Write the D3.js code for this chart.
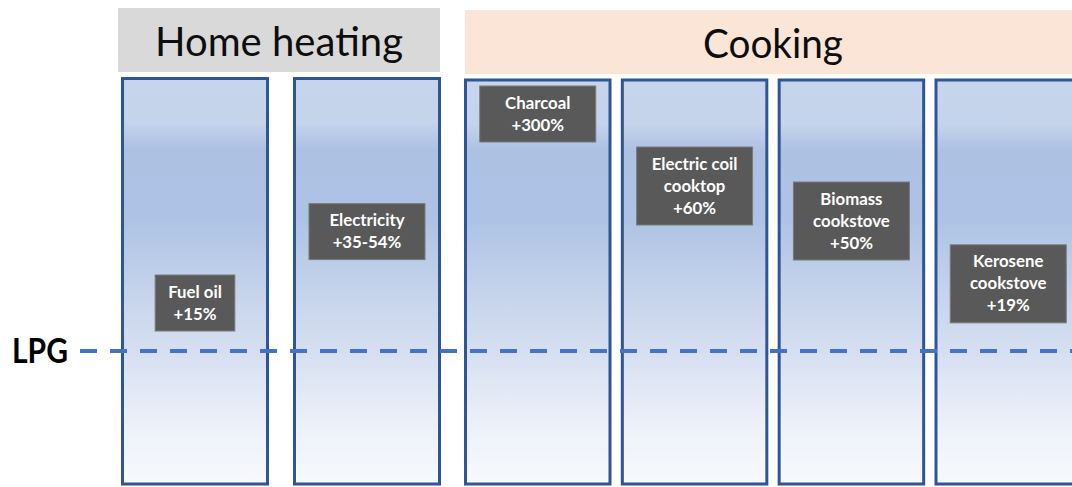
<!DOCTYPE html>
<html>
<head>
<meta charset="utf-8">
<script src="https://cdn.jsdelivr.net/npm/d3@7"></script>
<style>
  html, body { margin: 0; padding: 0; background: #ffffff; }
  svg { display: block; }
</style>
</head>
<body>
<svg id="chart" width="1072" height="487"></svg>
<script>
// ---------------- data ----------------
const groups = ["Home heating", "Cooking"];
const categories = ["Fuel oil", "Electricity", "Charcoal", "Electric coil cooktop", "Biomass cookstove", "Kerosene cookstove"];
const categoryGroup = ["Home heating", "Home heating", "Cooking", "Cooking", "Cooking", "Cooking"];
const labelLines = [["Fuel oil"], ["Electricity"], ["Charcoal"], ["Electric coil", "cooktop"], ["Biomass", "cookstove"], ["Kerosene", "cookstove"]];
const increaseLow = [15, 35, 300, 60, 50, 19];   // % cost increase vs LPG (low end)
const increaseHigh = [15, 54, 300, 60, 50, 19];  // % cost increase vs LPG (high end)
const baselineLabel = "LPG";
const baselineValue = 0;

// ---------------- layout ----------------
const W = 1072, H = 487;
const svg = d3.select("#chart");
const FONT = "Lato, 'Open Sans', sans-serif";

const rows = categories.map((c, i) => ({
  name: c, group: categoryGroup[i], lines: labelLines[i],
  low: increaseLow[i], high: increaseHigh[i],
  mid: (increaseLow[i] + increaseHigh[i]) / 2
}));

// group band scales (x)
const groupRange = { "Home heating": [121, 441], "Cooking": [464, 1082] };
const groupPad = { "Home heating": 0.1395, "Cooking": 0.0595 };
const xScales = {};
groups.forEach(g => {
  xScales[g] = d3.scaleBand()
    .domain(rows.filter(r => r.group === g).map(r => r.name))
    .range(groupRange[g])
    .paddingInner(groupPad[g])
    .paddingOuter(0);
});

// schematic (broken) y scale: % increase above LPG
const y = d3.scaleLinear()
  .domain([0, 15, 20, 50, 60, 300])
  .range([351, 303, 279, 221, 186, 114]);

const boxTop = { "Home heating": 78.5, "Cooking": 80 };
const boxBottom = 484;

// gradient
const defs = svg.append("defs");
const grad = defs.append("linearGradient").attr("id", "colGrad")
  .attr("x1", 0).attr("y1", 0).attr("x2", 0).attr("y2", 1);
[
  [0, "#c7d5ec"], [0.11, "#c5d3eb"], [0.175, "#adc1e3"], [0.34, "#adc2e4"],
  [0.50, "#c2d1ea"], [0.67, "#d6dff1"], [0.86, "#edf1f9"], [1, "#f7f9fd"]
].forEach(([o, c]) => grad.append("stop").attr("offset", o).attr("stop-color", c));

// group headers
const headerY = { "Home heating": [8, 72], "Cooking": [10, 74] };
const headerX = { "Home heating": [118, 440], "Cooking": [465, 1072] };
const headerFill = { "Home heating": "#d9d9d9", "Cooking": "#fbe5d6" };
const headerTextLen = { "Home heating": 248, "Cooking": 140 };

groups.forEach(g => {
  const [x0, x1] = headerX[g];
  const [y0, y1] = headerY[g];
  svg.append("rect")
    .attr("x", x0).attr("y", y0).attr("width", x1 - x0).attr("height", y1 - y0)
    .attr("fill", headerFill[g]);
  const cx = g === "Cooking" ? 773 : (x0 + x1) / 2;
  svg.append("text")
    .attr("x", cx).attr("y", y0 + 48)
    .attr("text-anchor", "middle")
    .attr("font-family", FONT).attr("font-size", 40)
    .attr("fill", "#0d0d0d")
    .attr("textLength", headerTextLen[g]).attr("lengthAdjust", "spacingAndGlyphs")
    .text(g);
});

// columns
const cols = svg.append("g");
rows.forEach(r => {
  const xs = xScales[r.group];
  cols.append("rect")
    .attr("x", xs(r.name) + 1.5).attr("y", boxTop[r.group])
    .attr("width", xs.bandwidth() - 3).attr("height", boxBottom - boxTop[r.group])
    .attr("fill", "url(#colGrad)")
    .attr("stroke", "#2f5597").attr("stroke-width", 3);
});

// LPG baseline
svg.append("line")
  .attr("x1", 80).attr("x2", W)
  .attr("y1", y(baselineValue)).attr("y2", y(baselineValue))
  .attr("stroke", "#4472c4").attr("stroke-width", 4.2)
  .attr("stroke-dasharray", "17,13");

svg.append("text")
  .attr("x", 12).attr("y", y(baselineValue) + 12)
  .attr("font-family", FONT).attr("font-weight", 700).attr("font-size", 34)
  .attr("fill", "#000")
  .attr("textLength", 56).attr("lengthAdjust", "spacingAndGlyphs")
  .text(baselineLabel);

// value labels
const lineH = 22;
rows.forEach(r => {
  const xs = xScales[r.group];
  const cx = xs(r.name) + xs.bandwidth() / 2;
  const valueText = r.low === r.high ? `+${r.low}%` : `+${r.low}-${r.high}%`;
  const lines = r.lines.concat([valueText]);
  const cy = y(r.mid);
  const g = svg.append("g");
  const rect = g.append("rect");
  const t = g.append("text")
    .attr("font-family", FONT).attr("font-weight", 700).attr("font-size", 16.8)
    .attr("fill", "#ffffff").attr("text-anchor", "middle");
  const h = lines.length * lineH + 12;
  lines.forEach((l, i) => {
    t.append("tspan").attr("x", cx)
      .attr("y", cy - h / 2 + 6 + lineH * i + 16.5)
      .text(l);
  });
  const tw = d3.max(t.selectAll("tspan").nodes(), n => n.getComputedTextLength());
  const w = tw < 62 ? tw + 26 : 116;
  rect.attr("x", cx - w / 2).attr("y", cy - h / 2)
    .attr("width", w).attr("height", h)
    .attr("fill", "#595959").attr("stroke", "#7a7a7a").attr("stroke-width", 1);
});
</script>
</body>
</html>
